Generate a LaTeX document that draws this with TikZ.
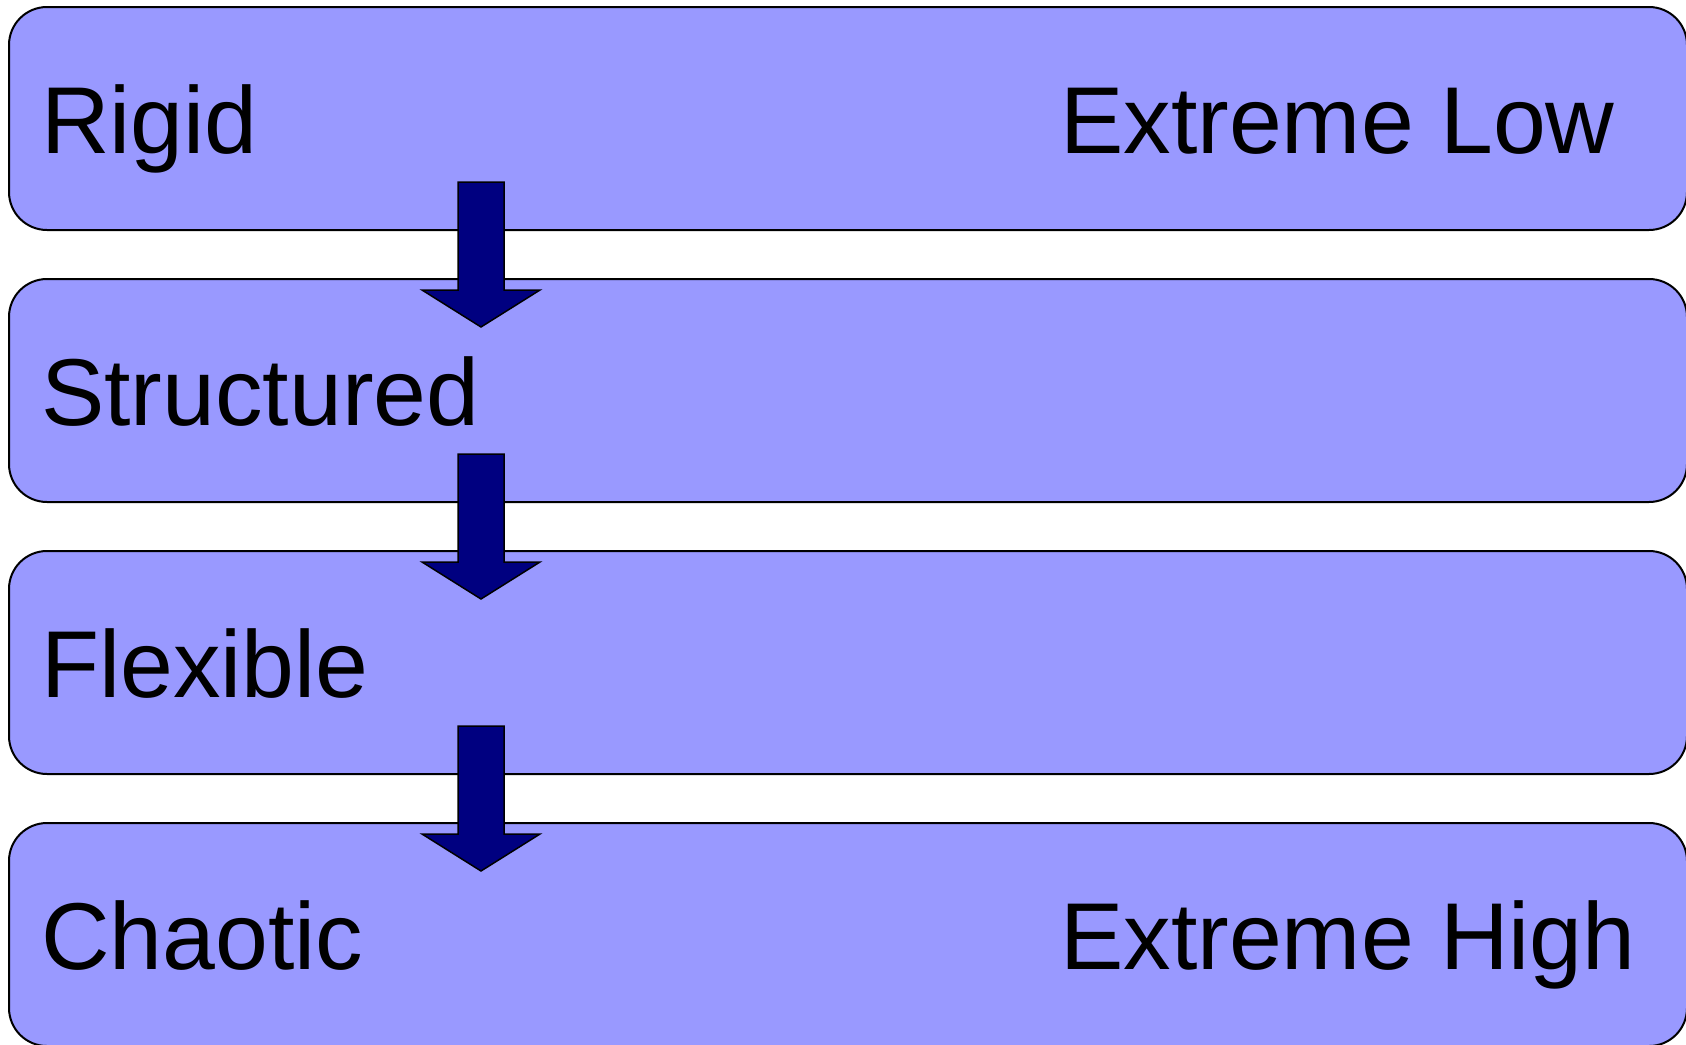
\documentclass[tikz,border=0pt]{standalone}
\usepackage{fontspec}
\setmainfont{Liberation Sans}
\definecolor{boxfill}{HTML}{9999FF}
\definecolor{arrowfill}{HTML}{000080}
\begin{document}
\begin{tikzpicture}[x=1pt,y=-1pt,
  band/.style={draw=black, line width=2pt, fill=boxfill, rounded corners=38pt,
    rectangle, minimum width=1678pt, minimum height=223pt, inner sep=0pt},
  lbl/.style={anchor=base west, inner sep=0pt, font=\fontsize{95}{110}\selectfont},
  downarrow/.style={draw=black, line width=1.5pt, fill=arrowfill}]
\useasboundingbox (0,0) rectangle (1686,1044);
\node[band] (b1) at (848,118.5) {};
\node[band] (b2) at (848,390.5) {};
\node[band] (b3) at (848,662.5) {};
\node[band] (b4) at (848,934.5) {};
\foreach \dy in {0,272,544}{
  \draw[downarrow] (458,182+\dy) -- (504,182+\dy) -- (504,290+\dy) -- (540,290+\dy)
    -- (481,327+\dy) -- (422,290+\dy) -- (458,290+\dy) -- cycle;
}
\node[lbl] (t1) at (41,153) {Rigid};
\node[lbl] (t1r) at (1060,153) {Extreme Low};
\node[lbl] (t2) at (41,425) {Structured};
\node[lbl] (t3) at (41,697) {Flexible};
\node[lbl] (t4) at (41,969) {Chaotic};
\node[lbl] (t4r) at (1060,969) {Extreme High};
\end{tikzpicture}
\end{document}
